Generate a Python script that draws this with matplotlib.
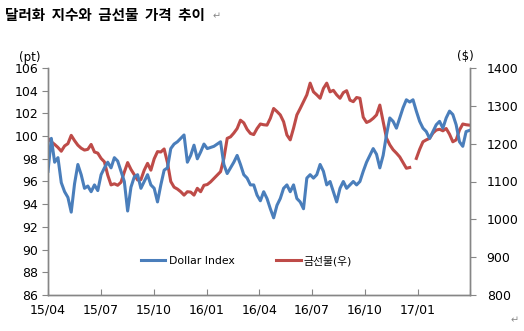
import matplotlib
matplotlib.use("Agg")
import matplotlib.pyplot as plt
import numpy as np
import pandas as pd

# 공통 날짜 축 (2015/04 ~ 2017/03, 그림에서 읽은 간격)
dates = pd.date_range("2015-04-01", "2017-03-31", periods=128)

# 달러 인덱스 (pt, 좌축)
dollar_index = [
    96.9, 99.8, 97.7, 98.1, 95.9, 95.1, 94.6, 93.3, 95.8, 97.5,
    96.6, 95.4, 95.6, 95.1, 95.7, 95.2, 96.6, 97.2, 97.7, 97.2,
    98.1, 97.8, 96.9, 96.0, 93.4, 95.5, 96.4, 96.6, 95.4, 96.0,
    96.6, 95.7, 95.4, 94.2, 95.7, 97.0, 97.2, 98.9, 99.3, 99.5,
    99.8, 100.1, 97.7, 98.3, 99.2, 98.0, 98.6, 99.3, 98.9, 99.0,
    99.1, 99.3, 99.5, 97.5, 96.7, 97.2, 97.7, 98.3, 97.5, 96.6,
    96.3, 95.7, 95.7, 94.8, 94.3, 95.1, 94.5, 93.6, 92.8, 93.9,
    94.5, 95.4, 95.7, 95.1, 95.7, 94.5, 94.2, 93.6, 96.3, 96.6,
    96.3, 96.6, 97.5, 96.9, 95.7, 96.0, 95.1, 94.2, 95.4, 96.0,
    95.4, 95.7, 96.0, 95.7, 96.0, 96.9, 97.7, 98.3, 98.9, 98.4,
    97.2, 98.3, 100.1, 101.6, 101.3, 100.7, 101.6, 102.5, 103.2, 103.0,
    103.2, 102.2, 101.3, 100.7, 100.4, 99.8, 100.4, 101.0, 101.3, 100.7,
    101.6, 102.2, 101.9, 101.0, 99.5, 99.1, 100.4, 100.5,
]

# 금선물 가격 ($, 우축) - 연말 휴장 구간은 비어 있음
gold_futures = [
    1214, 1205, 1198, 1190, 1180, 1194, 1200, 1222, 1208, 1196,
    1188, 1183, 1185, 1198, 1178, 1175, 1161, 1152, 1117, 1091,
    1094, 1090, 1098, 1125, 1150, 1132, 1118, 1104, 1105, 1130,
    1148, 1130, 1160, 1179, 1178, 1186, 1150, 1100, 1085, 1080,
    1073, 1064, 1073, 1072, 1064, 1082, 1073, 1090, 1092, 1099,
    1108, 1117, 1126, 1161, 1214, 1218, 1228, 1240, 1262, 1255,
    1238, 1227, 1224, 1240, 1252, 1250, 1249, 1267, 1293, 1285,
    1276, 1258, 1223, 1210, 1241, 1276, 1293, 1311, 1329, 1360,
    1337, 1329, 1320, 1346, 1360, 1337, 1341, 1329, 1320, 1335,
    1340, 1315, 1311, 1322, 1320, 1270, 1256, 1260, 1267, 1276,
    1302, 1258, 1215, 1197, 1184, 1175, 1165, 1150, 1135, 1137,
    np.nan, 1161, 1185, 1205, 1210, 1214, 1228, 1236, 1238, 1234,
    1240, 1225, 1205, 1210, 1236, 1252, 1250, 1249,
]

tick_dates = pd.to_datetime([
    "2015-04-01", "2015-07-01", "2015-10-01", "2016-01-01", "2016-04-01",
    "2016-07-01", "2016-10-01", "2017-01-01", "2017-04-01",
])
tick_labels = ["15/04", "15/07", "15/10", "16/01", "16/04",
               "16/07", "16/10", "17/01", ""]

BLUE = "#4a7ebb"
RED = "#be4b48"
AXIS = "#868686"

plt.rcParams["font.family"] = ["DejaVu Sans", "Noto Sans CJK KR"]

fig = plt.figure(figsize=(5.24, 3.31), dpi=100)
ax = fig.add_axes([48 / 524, 1 - 295 / 331, 422 / 524, 227 / 331])
ax2 = ax.twinx()

l1, = ax.plot(dates, dollar_index, color=BLUE, lw=2.2, label="Dollar Index")
l2, = ax2.plot(dates, gold_futures, color=RED, lw=2.2, label="금선물(우)")
ax.set_zorder(ax2.get_zorder() + 1)
ax.patch.set_visible(False)

ax.set_xlim(tick_dates[0], tick_dates[-1])
ax.set_ylim(86, 106)
ax.set_yticks(np.arange(86, 107, 2))
ax2.set_ylim(800, 1400)
ax2.set_yticks(np.arange(800, 1401, 100))
ax.set_xticks(tick_dates)
ax.set_xticklabels(tick_labels)

for a in (ax, ax2):
    for s in a.spines.values():
        s.set_color(AXIS)
        s.set_linewidth(1.0)
    a.spines["top"].set_visible(False)
ax.tick_params(axis="x", direction="in", length=4, color=AXIS,
               labelsize=9, pad=6)
ax.tick_params(axis="y", direction="out", length=4, color=AXIS,
               labelsize=9, pad=3)
ax2.tick_params(axis="y", direction="out", length=4, color=AXIS,
                labelsize=9, pad=8)

fig.text(30 / 524, 1 - 57 / 331, "(pt)", fontsize=8.5, ha="center", va="center")
fig.text(465 / 524, 1 - 57 / 331, "($)", fontsize=8.5, ha="center", va="center")

ax.legend(handles=[l1, l2], loc="center", bbox_to_anchor=(0.47, 0.15),
          ncol=2, frameon=False, fontsize=7.8, handlelength=2.3,
          columnspacing=3.8, handletextpad=0.3)

fig.text(5 / 524, 1 - 15 / 331, "달러화  지수와  금선물  가격  추이",
         fontsize=10.5, fontweight="bold", ha="left", va="center",
         family=["Noto Sans CJK KR", "DejaVu Sans"])
fig.text(213 / 524, 1 - 16 / 331, "↵", fontsize=7, color="#888888",
         ha="left", va="center")
fig.text(515 / 524, 1 - 320 / 331, "↵", fontsize=7, color="#888888",
         ha="center", va="center")

fig.savefig("out.png", dpi=100)
